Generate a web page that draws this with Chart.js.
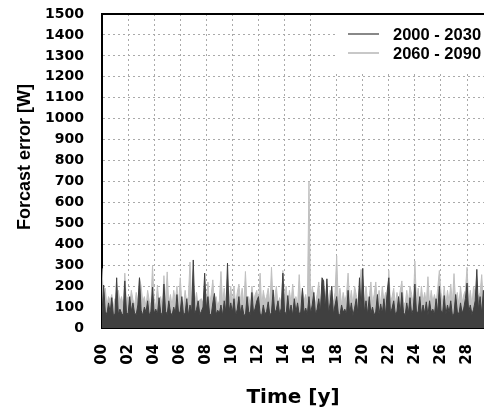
<!DOCTYPE html>
<html>
<head>
<meta charset="utf-8">
<script src="https://cdn.jsdelivr.net/npm/chart.js@4.4.0/dist/chart.umd.min.js"></script>
<style>
  html, body { margin: 0; background: #fff; overflow: hidden; }
  canvas { display: block; }
</style>
</head>
<body>
<canvas id="chart" width="484" height="414"></canvas>
<script>
// series names + tick labels
var seriesNames = ["2000 - 2030", "2060 - 2090"];
var xTickLabels = ["00", "02", "04", "06", "08", "10", "12", "14", "16", "18", "20", "22", "24", "26", "28"];
var samplesPerYear = 8;

// forecast error [W], 8 samples per year, one row per year
var err2000 = [
  70, 205, 80, 65, 120, 75, 145, 60,
  70, 240, 65, 90, 70, 60, 225, 75,
  65, 150, 80, 120, 70, 65, 110, 240,
  85, 60, 100, 75, 130, 60, 80, 195,
  70, 90, 65, 145, 75, 60, 210, 80,
  65, 130, 75, 60, 100, 70, 160, 70,
  80, 150, 65, 70, 140, 60, 110, 75,
  325, 70, 90, 130, 65, 80, 100, 262,
  90, 150, 70, 60, 120, 165, 65, 85,
  70, 110, 60, 130, 75, 310, 80, 120,
  75, 140, 60, 90, 150, 70, 110, 65,
  60, 150, 80, 65, 170, 70, 95, 130,
  150, 70, 60, 110, 65, 80, 125, 60,
  75, 182, 70, 90, 130, 65, 95, 262,
  80, 65, 155, 70, 110, 60, 140, 75,
  120, 65, 80, 190, 70, 95, 65, 150,
  70, 110, 170, 65, 90, 140, 75, 240,
  225, 90, 235, 70, 120, 200, 65, 110,
  150, 70, 60, 110, 75, 90, 65, 180,
  70, 120, 60, 95, 140, 70, 240, 85,
  285, 75, 130, 65, 150, 70, 100, 60,
  80, 160, 65, 115, 70, 140, 60, 175,
  240, 70, 95, 130, 65, 80, 150, 70,
  170, 75, 60, 120, 70, 145, 65, 90,
  210, 70, 80, 150, 65, 110, 70, 125,
  60, 130, 75, 90, 65, 140, 70, 200,
  85, 70, 155, 65, 110, 75, 130, 60,
  70, 160, 80, 65, 120, 70, 95, 140,
  215, 75, 110, 65, 90, 130, 280, 85,
  150, 70, 180, 65, 120, 75, 90, 70
];
var err2060 = [
  285, 120, 190, 105, 150, 130, 160, 100,
  140, 110, 180, 125, 150, 105, 262, 120,
  150, 110, 180, 135, 105, 170, 120, 240,
  200, 125, 150, 100, 180, 130, 110, 300,
  130, 105, 205, 120, 150, 100, 250, 125,
  268, 115, 160, 105, 180, 130, 200, 110,
  240, 125, 105, 180, 120, 150, 315, 110,
  200, 120, 170, 105, 135, 140, 115, 180,
  125, 220, 110, 160, 230, 120, 150, 105,
  130, 270, 115, 190, 110, 180, 125, 200,
  120, 200, 110, 170, 210, 125, 190, 105,
  270, 120, 150, 110, 200, 130, 160, 180,
  115, 262, 105, 180, 130, 150, 190, 110,
  290, 125, 150, 200, 110, 145, 115, 275,
  130, 200, 110, 180, 120, 210, 125, 150,
  110, 255, 120, 180, 130, 160, 110, 700,
  125, 200, 150, 115, 160, 220, 110, 190,
  200, 125, 210, 110, 180, 150, 120, 170,
  345, 120, 190, 110, 170, 125, 160, 262,
  120, 180, 110, 200, 160, 120, 190, 280,
  190, 110, 200, 125, 150, 220, 120, 160,
  220, 120, 180, 110, 200, 130, 170, 125,
  275, 120, 150, 190, 110, 170, 125, 180,
  225, 125, 110, 180, 120, 200, 160, 110,
  320, 120, 190, 110, 200, 125, 170, 120,
  245, 110, 180, 125, 160, 120, 190, 275,
  170, 120, 200, 110, 180, 125, 210, 120,
  260, 125, 170, 110, 200, 120, 160, 180,
  290, 120, 180, 110, 200, 160, 125, 150,
  170, 255, 120, 180, 110, 160, 125, 150
];

var colors = ["#404040", "#c0c0c0"];
var legendColors = ["#888888", "#c8c8c8"];

function toPoints(values) {
  return values.map(function (v, i) { return { x: i / samplesPerYear, y: v }; });
}

// frame top edge, y title, legend (drawn by hand to sit inside the plot)
var extras = {
  id: "extras",
  afterDraw: function (chart) {
    var ctx = chart.ctx, a = chart.chartArea;
    ctx.save();
    ctx.fillStyle = "#fff";
    ctx.fillRect(335, a.top + 1, a.right - 335, 56);
    ctx.font = "bold 16.5px 'Liberation Sans', Arial, sans-serif";
    ctx.textBaseline = "middle";
    ctx.textAlign = "left";
    seriesNames.forEach(function (name, i) {
      var y = 34 + i * 19;
      ctx.strokeStyle = legendColors[i];
      ctx.lineWidth = 2;
      ctx.beginPath(); ctx.moveTo(348, y); ctx.lineTo(379, y); ctx.stroke();
      ctx.fillStyle = "#000";
      ctx.fillText(name, 393, y + 1);
    });
    ctx.strokeStyle = "#000";
    ctx.lineWidth = 2;
    ctx.beginPath(); ctx.moveTo(a.left - 1, a.top); ctx.lineTo(a.right, a.top); ctx.stroke();
    ctx.translate(25, 157);
    ctx.rotate(-Math.PI / 2);
    ctx.textAlign = "center";
    ctx.font = "bold 18px 'Liberation Sans', Arial, sans-serif";
    ctx.fillText("Forcast error [W]", 0, 0);
    ctx.restore();
  }
};

var gridStyle = { color: "#aaaaaa", lineWidth: 1, drawTicks: false };
// in v4 the grid dash lives under border.dash
var borderStyle = { color: "#000", width: 2, dash: [2, 3] };

new Chart(document.getElementById("chart").getContext("2d"), {
  type: "line",
  data: {
    datasets: [{
      label: seriesNames[0],
      data: toPoints(err2000),
      borderColor: colors[0],
      backgroundColor: colors[0],
      borderWidth: 1,
      fill: "origin",
      pointRadius: 0,
      tension: 0
    }, {
      label: seriesNames[1],
      data: toPoints(err2060),
      borderColor: colors[1],
      backgroundColor: colors[1],
      borderWidth: 1,
      fill: "origin",
      pointRadius: 0,
      tension: 0
    }]
  },
  options: {
    responsive: false,
    animation: false,
    events: [],
    layout: { padding: { top: 14, right: 0, bottom: 0, left: 0 } },
    plugins: { legend: { display: false }, tooltip: { enabled: false } },
    scales: {
      x: {
        type: "linear",
        min: 0,
        max: 29.3,
        afterFit: function (s) { s.height = 86; s.paddingLeft = 0; s.paddingRight = 0; },
        grid: gridStyle,
        border: borderStyle,
        ticks: {
          stepSize: 2,
          includeBounds: false,
          autoSkip: false,
          minRotation: 90,
          maxRotation: 90,
          padding: 16,
          color: "#000",
          font: { family: "'DejaVu Sans'", weight: "bold", size: 15 },
          callback: function (v) { return xTickLabels[Math.round(v / 2)]; }
        },
        title: {
          display: true,
          text: "Time [y]",
          color: "#000",
          font: { family: "'DejaVu Sans'", weight: "bold", size: 20 },
          padding: { top: 0, bottom: 4 }
        }
      },
      y: {
        min: 0,
        max: 1500,
        afterFit: function (s) { s.width = 102; s.paddingTop = 0; s.paddingBottom = 0; },
        grid: gridStyle,
        border: borderStyle,
        ticks: {
          stepSize: 100,
          padding: 18,
          color: "#000",
          font: { family: "'DejaVu Sans'", weight: "bold", size: 14 },
          callback: function (v) { return String(v); }
        }
      }
    }
  },
  plugins: [extras]
});
</script>
</body>
</html>
